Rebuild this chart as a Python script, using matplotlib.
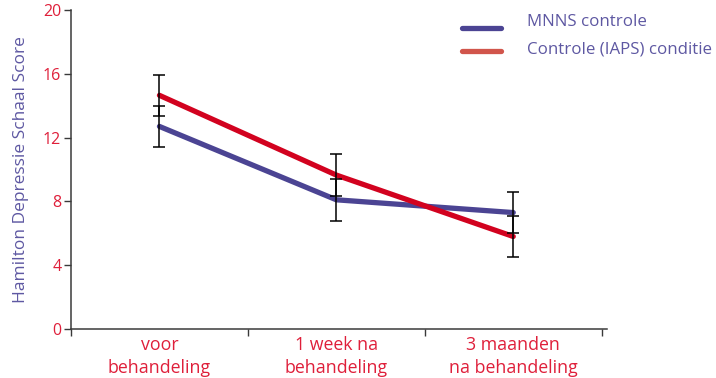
import matplotlib
matplotlib.use("Agg")
import matplotlib.pyplot as plt
import numpy as np
from matplotlib.lines import Line2D

categories = ["voor\nbehandeling", "1 week na\nbehandeling", "3 maanden\nna behandeling"]
mnns = [12.7, 8.1, 7.3]
mnns_err = [1.3, 1.3, 1.3]
iaps = [14.65, 9.65, 5.8]
iaps_err = [1.3, 1.3, 1.3]
yticks = [0, 4, 8, 12, 16, 20]
series_names = ["MNNS controle", "Controle (IAPS) conditie"]

BLUE = "#4B4493"
RED = "#D2021F"
RED_LEG = "#D1554B"
TICK_RED = "#DF1F3A"
LABEL_PURPLE = "#5E58A2"
AX = "#3a3a3a"

plt.rcParams['font.family'] = ['Open Sans', 'DejaVu Sans']

W, H = 716, 378
fig = plt.figure(figsize=(W/100, H/100), dpi=100)
ax = fig.add_axes([71/W, (H-329)/H, (607-71)/W, (329-10)/H])

x = np.arange(len(categories)) + 0.5
ax.plot(x, mnns, color=BLUE, lw=3.8, solid_capstyle='round', solid_joinstyle='round', zorder=2)
ax.plot(x, iaps, color=RED, lw=3.8, solid_capstyle='round', solid_joinstyle='round', zorder=3)
ax.errorbar(x, mnns, yerr=mnns_err, fmt='none', ecolor='black', elinewidth=1.1, capsize=4, capthick=1.1, zorder=4)
ax.errorbar(x, iaps, yerr=iaps_err, fmt='none', ecolor='black', elinewidth=1.1, capsize=4, capthick=1.1, zorder=4)

ax.set_xlim(0, 3.03)
ax.set_ylim(0, 20)
ax.set_yticks(yticks)
ax.set_yticklabels([str(v) for v in yticks])
ax.set_xticks([0, 1, 2, 3])
ax.set_xticklabels([])
ax.set_xticks(x, minor=True)
ax.set_xticklabels(categories, minor=True)
ax.tick_params(axis='x', which='minor', length=0, pad=5, labelsize=12.8, labelcolor=TICK_RED)
ax.tick_params(axis='x', which='major', length=5, direction='out', color=AX, width=1)
ax.tick_params(axis='y', length=5, direction='out', color=AX, width=1, pad=2, labelsize=11.5, labelcolor=TICK_RED)
for t in ax.get_xticklabels(minor=True):
    t.set_linespacing(1.35)

for s in ['top', 'right']:
    ax.spines[s].set_visible(False)
for s in ['left', 'bottom']:
    ax.spines[s].set_color(AX)
    ax.spines[s].set_linewidth(1.1)

ax.set_ylabel("Hamilton Depressie Schaal Score", color=LABEL_PURPLE, fontsize=12.5, labelpad=10)

# manual legend
leg_colors = [BLUE, RED_LEG]
line_y = [28, 51]
text_y = [22, 49]
for name, c, ly, ty in zip(series_names, leg_colors, line_y, text_y):
    fig.add_artist(Line2D([462/W, 501/W], [1 - ly/H, 1 - ly/H], color=c, lw=3.8,
                          solid_capstyle='round', transform=fig.transFigure))
    fig.text(527/W, 1 - ty/H, name, color=LABEL_PURPLE, fontsize=12.2, va='center', ha='left')

fig.savefig("out.png", dpi=100)
